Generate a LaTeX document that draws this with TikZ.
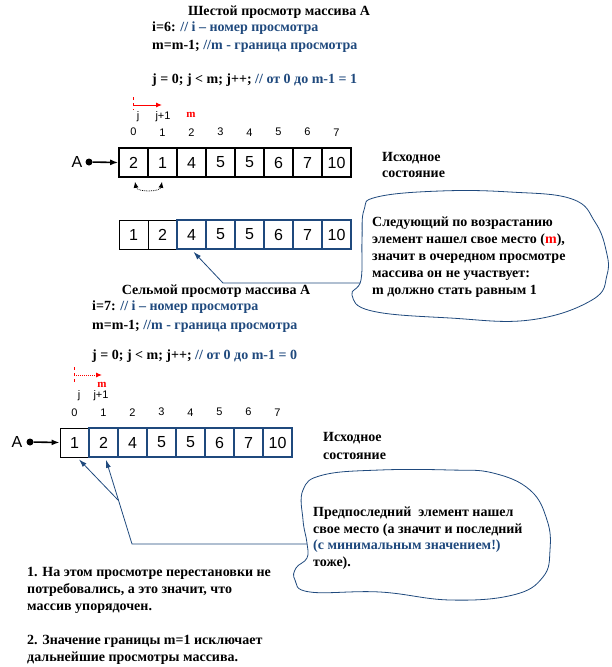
\documentclass[tikz,border=0pt]{standalone}
\usepackage{fontspec}
\setmainfont{Liberation Serif}
\newfontfamily\arial{Liberation Sans}
\usetikzlibrary{arrows.meta}
\definecolor{codeblue}{RGB}{31,73,125}
\tikzset{
  cell/.style = {draw, minimum width=29pt, minimum height=29pt, inner sep=0pt, font=\arial\fontsize{16}{16}\selectfont},
  blk/.style = {cell, line width=1.6pt},
  blkthin/.style = {cell, line width=0.8pt},
  blu/.style = {cell, draw=codeblue, line width=1.6pt},
  idx/.style = {font=\arial\fontsize{11}{11}\selectfont, inner sep=0pt, label distance=11pt},
  lbl/.style = {font=\arial\fontsize{11}{11}\selectfont, inner sep=0pt},
  mred/.style = {font=\bfseries\fontsize{11}{11}\selectfont, text=red, inner sep=0pt},
  txt/.style = {font=\bfseries\fontsize{14}{17}\selectfont, align=left, inner sep=0pt, anchor=base west},
  adot/.style = {circle, fill=black, inner sep=0pt, minimum size=7pt},
  ptr/.style = {codeblue, line width=0.8pt, -{Latex[length=8pt,width=5pt]}},
  bubble/.style = {codeblue, line width=0.8pt}
}
\begin{document}
\begin{tikzpicture}[x=1pt, y=-1pt]
\useasboundingbox (0,0) rectangle (612,667);

% sixth pass
\node [txt, anchor=base] (ttl6) at (279,15) {Шестой просмотр массива А};
\node [txt, font=\bfseries\fontsize{14}{18}\selectfont] (code6) at (152,83) {i=6: \textcolor{codeblue}{// i – номер просмотра}\\
  m=m-1; \textcolor{codeblue}{//m - граница просмотра}\\[15.5pt]
  j = 0; j < m; j++; \textcolor{codeblue}{// от 0 до m-1 = 1}};

\draw [red, dashed] (133,97) -- (133,110);
\coordinate (p6) at (133,105);
\coordinate (q6) at (162,105);
\draw [red, line width=1pt, -{Latex[length=6pt,width=5pt]}] (p6) -- (q6);
\node [lbl] (j6) at (138,117) {j};
\node [lbl] (jj6) at (163,117) {j+1};
\node [mred] (m6) at (191,115) {m};

\node [blk, label={[idx]above:0}] (a0) at (133.5,162.5) {2};
\node [blk, label={[idx]above:1}] (a1) at (162.5,162.5) {1};
\node [blk, label={[idx]above:2}] (a2) at (191.5,162.5) {4};
\node [blk, label={[idx]above:3}] (a3) at (220.5,162.5) {5};
\node [blk, label={[idx]above:4}] (a4) at (249.5,162.5) {5};
\node [blk, label={[idx]above:5}] (a5) at (278.5,162.5) {6};
\node [blk, label={[idx]above:6}] (a6) at (307.5,162.5) {7};
\node [blk, label={[idx]above:7}] (a7) at (336.5,162.5) {10};

\node [font=\arial\fontsize{16}{16}\selectfont, inner sep=0pt] (A6) at (77,162) {A};
\node [adot] (d6) at (89,162) {};
\draw [line width=1.6pt, -{Latex[length=8pt,width=6pt]}] (d6) -- (a0.west);
\draw [densely dotted, line width=0.8pt, {Latex[length=6pt,width=5pt]}-{Latex[length=6pt,width=5pt]}]
  ([xshift=1.5pt,yshift=-4pt]a0.south) to [bend right=80] ([xshift=-0.5pt,yshift=-4pt]a1.south);

\node [txt, font=\bfseries\fontsize{14}{16.5}\selectfont] (st6) at (382,177.5) {Исходное\\состояние};

% after the pass
\node [blkthin] (b0) at (133.5,234.5) {1};
\node [blkthin] (b1) at (162.5,234.5) {2};
\node [blu] (b2) at (191.5,234.5) {4};
\node [blu] (b3) at (220.5,234.5) {5};
\node [blu] (b4) at (249.5,234.5) {5};
\node [blu] (b5) at (278.5,234.5) {6};
\node [blu] (b6) at (307.5,234.5) {7};
\node [blu] (b7) at (336.5,234.5) {10};

\draw [bubble] plot [smooth cycle, tension=0.7] coordinates {(377,197) (440,191) (510,192) (572,199) (595,222) (606,250) (607,275) (592,300) (530,320) (450,318) (372,311) (352,295) (361,280) (362,240) (364,210)};
\node [txt] (note1) at (372,294.5) {Следующий по возрастанию\\
  элемент нашел свое место (\textcolor{red}{m}),\\
  значит в очередном просмотре\\
  массива он не участвует:\\
  m должно стать равным 1};
\coordinate (e1) at (360,283);
\coordinate (k1) at (223,283);
\draw [ptr] (e1) -- (k1) -- ([xshift=2pt,yshift=-2pt]b2.south);

% seventh pass
\node [txt, anchor=base] (ttl7) at (216,294) {Сельмой просмотр массива А};
\node [txt, font=\bfseries\fontsize{14}{19}\selectfont] (code7) at (92,359.5) {i=7: \textcolor{codeblue}{// i – номер просмотра}\\
  m=m-1; \textcolor{codeblue}{//m - граница просмотра}\\[11pt]
  j = 0; j < m; j++; \textcolor{codeblue}{// от 0 до m-1 = 0}};

\draw [red, dashed] (74,367) -- (74,382);
\coordinate (p7) at (74,375);
\coordinate (q7) at (102,375);
\draw [red, densely dotted, line width=1pt, -{Latex[length=6pt,width=5pt]}] (p7) -- (q7);
\node [mred] (m7) at (102,385) {m};
\node [lbl] (j7) at (79,396) {j};
\node [lbl] (jj7) at (101,396) {j+1};

\node [blkthin, label={[idx]above:0}] (c0) at (74.5,442.5) {1};
\node [blu, label={[idx]above:1}] (c1) at (103.5,442.5) {2};
\node [blu, label={[idx]above:2}] (c2) at (132.5,442.5) {4};
\node [blu, label={[idx]above:3}] (c3) at (161.5,442.5) {5};
\node [blu, label={[idx]above:4}] (c4) at (190.5,442.5) {5};
\node [blu, label={[idx]above:5}] (c5) at (219.5,442.5) {6};
\node [blu, label={[idx]above:6}] (c6) at (248.5,442.5) {7};
\node [blu, label={[idx]above:7}] (c7) at (277.5,442.5) {10};

\node [font=\arial\fontsize{16}{16}\selectfont, inner sep=0pt] (A7) at (17,442) {A};
\node [adot] (d7) at (30,442) {};
\draw [line width=1.6pt, -{Latex[length=8pt,width=6pt]}] (d7) -- (c0.west);

\node [txt, font=\bfseries\fontsize{14}{18}\selectfont] (st7) at (323,459.5) {Исходное\\состояние};

\draw [bubble] plot [smooth cycle, tension=0.7] coordinates {(303,490) (323,475) (380,470) (450,470) (493,473) (530,490) (547,520) (550,550) (543,577) (513,595) (450,600) (380,592) (310,592) (295,580) (296,568) (307,558) (307,543) (303,520)};
\node [txt, font=\bfseries\fontsize{14}{16.7}\selectfont] (note2) at (313,566.5) {Предпоследний\ \ элемент нашел\\
  свое место (а значит и последний\\
  \textcolor{codeblue}{(с минимальным значением!)}\\
  тоже).};
\coordinate (e2) at (307,544);
\coordinate (k2) at (132,544);
\coordinate (k3) at (118,500);
\draw [ptr] (e2) -- (k2) -- ([xshift=2.5pt,yshift=-2pt]c1.south);
\draw [ptr] (k3) -- ([xshift=4.5pt,yshift=-2pt]c0.south);

\node [txt] (concl) at (27,661.5) {1. На этом просмотре перестановки не\\
  потребовались, а это значит, что\\
  массив упорядочен.\\[17pt]
  2. Значение границы m=1 исключает\\
  дальнейшие просмотры массива.};
\end{tikzpicture}
\end{document}
